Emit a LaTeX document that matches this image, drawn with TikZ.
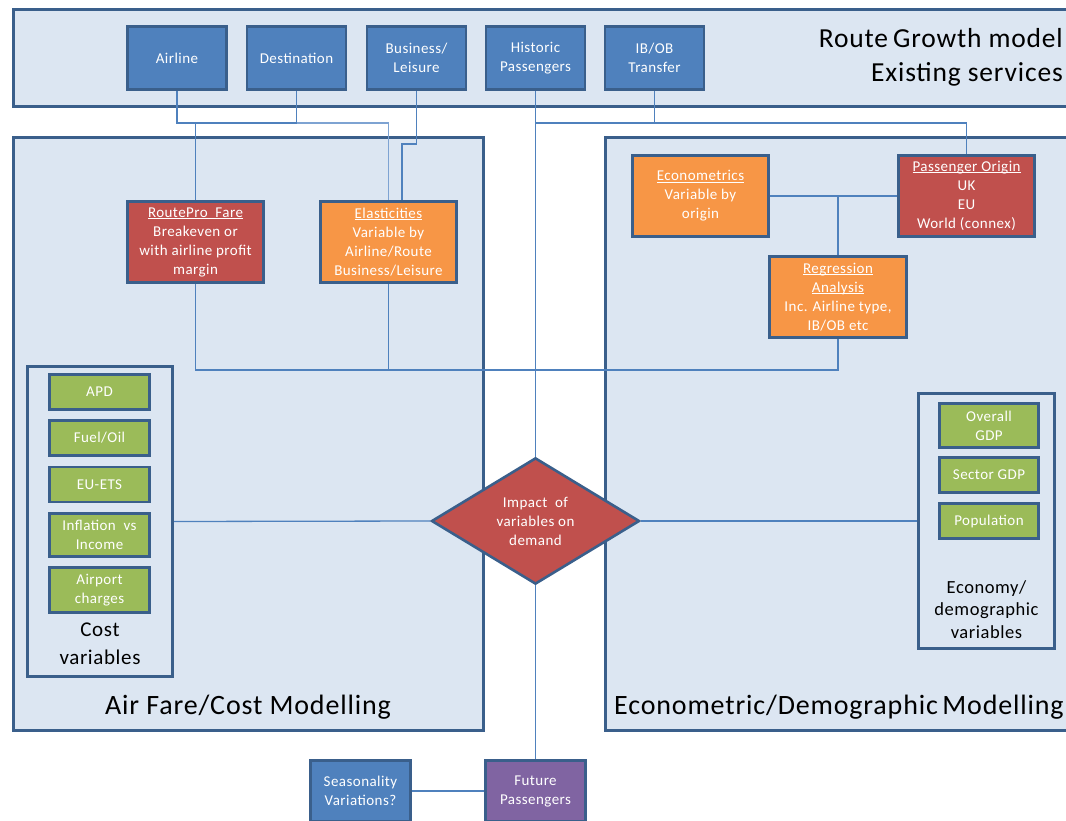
\documentclass[tikz,border=0pt]{standalone}
\usepackage{fontspec}
\setmainfont{Carlito}[LetterSpace=3]
\usetikzlibrary{shapes.geometric}
\definecolor{pfill}{HTML}{DCE6F2}
\definecolor{bdr}{HTML}{3A5F8B}
\definecolor{cblue}{HTML}{4F81BD}
\definecolor{cred}{HTML}{C0504D}
\definecolor{corange}{HTML}{F79646}
\definecolor{cgreen}{HTML}{9BBB59}
\definecolor{cpurple}{HTML}{8064A2}
\definecolor{cline}{HTML}{4F81BD}
\definecolor{clight}{HTML}{7EA3D2}
\newcommand\myul[1]{\setbox0\hbox{#1}\rlap{\rule[-1.7pt]{\wd0}{0.9pt}}\box0}
\newcommand\myfs[2]{\fontsize{#1}{#2}\selectfont}
\tikzset{
  panel/.style={draw=bdr, line width=3pt, fill=pfill},
  box/.style={draw=bdr, line width=2.6pt, text=white, align=center, inner sep=0pt, font=\myfs{15}{19}},
  topbox/.style={box, fill=cblue, minimum width=99pt, minimum height=63pt},
  bigbox/.style={box, minimum width=136pt, minimum height=81pt},
  gbox/.style={box, fill=cgreen, minimum width=100pt},
  grpbox/.style={draw=bdr, line width=3pt, fill=pfill, inner sep=0pt},
  diam/.style={shape=diamond, draw=bdr, fill=cred, line width=2.6pt, text=white, align=center, inner sep=0pt, font=\myfs{15}{19}, minimum width=208pt, minimum height=125pt},
  conn/.style={draw=cline, line width=1.3pt},
  lbl/.style={text=black, align=center, inner sep=0pt},
}
\begin{document}
\begin{tikzpicture}[x=1pt,y=-1pt]
\path[use as bounding box] (0,0) rectangle (1066,821);
\clip (0,0) rectangle (1066,821);
\fill[white] (0,0) rectangle (1066,821);
% panels
\draw[panel] (13.5,9.5) rectangle (1095,106.5);
\draw[panel] (13.5,137.5) rectangle (483.5,730.5);
\draw[panel] (605,137.5) rectangle (1095,730.5);
% panel labels
\node[lbl, anchor=east, align=right, font=\myfs{27.5}{34}] (title) at (1063,57) {Route\hspace{5pt}Growth model\\Existing services};
\node[lbl, font=\myfs{28}{32}] (airlbl) at (248,707) {Air Fare/Cost Modelling};
\node[lbl, anchor=west, font=\myfs{28}{32}] (ecolbl) at (614,707) {Econometric/Demographic\hspace{4.5pt}Modelling};
% top boxes
\node[topbox] (air) at (177,58) {Airline};
\node[topbox] (dst) at (296.5,58) {Destination};
\node[topbox] (bl) at (416.5,58) {Business/\\Leisure};
\node[topbox] (hist) at (535.5,58) {Historic\\Passengers};
\node[topbox] (ibob) at (654.5,58) {IB/OB\\Transfer};
% middle boxes
\node[bigbox, fill=cred] (rp) at (195.5,242) {\myul{RoutePro\ \ Fare}\\Breakeven or\\with airline profit\\margin};
\node[bigbox, fill=corange] (ela) at (388.5,242) {\myul{Elasticities}\\Variable by\\Airline/Route\\Business/Leisure};
\node[bigbox, fill=corange] (eco) at (700.5,196) {\myul{Econometrics}\\Variable by\\origin};
\node[bigbox, fill=cred] (po) at (966.5,196) {\myul{Passenger Origin}\\UK\\EU\\World (connex)};
\node[bigbox, fill=corange, minimum width=137pt] (reg) at (838,297) {\myul{Regression}\\\myul{Analysis}\\Inc. Airline type,\\IB/OB etc};
% cost group
\node[grpbox, minimum width=145pt, minimum height=310pt] (costbox) at (100,521.5) {};
\node[gbox, minimum height=35.5pt] (apd) at (99.5,392) {APD};
\node[gbox, minimum height=35.5pt] (fuel) at (99.5,438) {Fuel/Oil};
\node[gbox, minimum height=35pt] (ets) at (99.5,484.5) {EU-ETS};
\node[gbox, minimum height=43pt] (infl) at (99.5,535) {Inflation\ \ vs\\Income};
\node[gbox, minimum height=45pt] (apc) at (99.5,590) {Airport\\charges};
\node[lbl, font=\myfs{21}{28}] (costlbl) at (100,644) {Cost\\variables};
% economy group
\node[grpbox, minimum width=136pt, minimum height=255pt] (econbox) at (986.5,521) {};
\node[gbox, minimum width=99pt, minimum height=44pt] (ogdp) at (989,425.5) {Overall\\GDP};
\node[gbox, minimum width=99pt, minimum height=35pt] (sgdp) at (989,475) {Sector GDP};
\node[gbox, minimum width=99pt, minimum height=35pt] (pop) at (989,521) {Population};
\node[lbl, font=\myfs{18.5}{22.5}] (econlbl) at (986.5,609.5) {Economy/\\demographic\\variables};
% diamond
\node[diam] (dia) at (535.5,521) {Impact\ \ of\\variables on\\demand};
% bottom boxes
\node[box, fill=cblue, minimum width=100pt, minimum height=61pt] (seas) at (360.5,791) {Seasonality\\Variations?};
\node[box, fill=cpurple, minimum width=100pt, minimum height=61pt] (fut) at (535.5,791) {Future\\Passengers};
% helper coordinates
\coordinate (h1) at (0,123);
\coordinate (h2) at (402,144);
\coordinate (h3) at (0,370);
% connectors
\draw[conn] (air.south) -- (air.south |- h1) -- (dst.south |- h1) -- (dst.south);
\draw[conn] (rp.north) -- (rp.north |- h1);
\draw[conn, draw=clight] (dst.south |- h1) -| (ela.north);
\draw[conn] (bl.south) |- (h2) -- (h2 |- ela.north);
\draw[conn] (hist.south) -- (dia.north);
\draw[conn] (hist.south |- h1) -| (po.north);
\draw[conn] (ibob.south) -- (ibob.south |- h1);
\draw[conn] (eco.east) -- (po.west);
\draw[conn] (reg.north) -- (reg.north |- eco.east);
\draw[conn] (rp.south) |- (reg.south |- h3) -- (reg.south);
\draw[conn] (ela.south) -- (ela.south |- h3);
\draw[conn] (costbox.east) -- (dia.west);
\draw[conn] (dia.east) -- (econbox.west);
\draw[conn] (dia.south) -- (fut.north);
\draw[conn] (seas.east) -- (fut.west);
\end{tikzpicture}
\end{document}
